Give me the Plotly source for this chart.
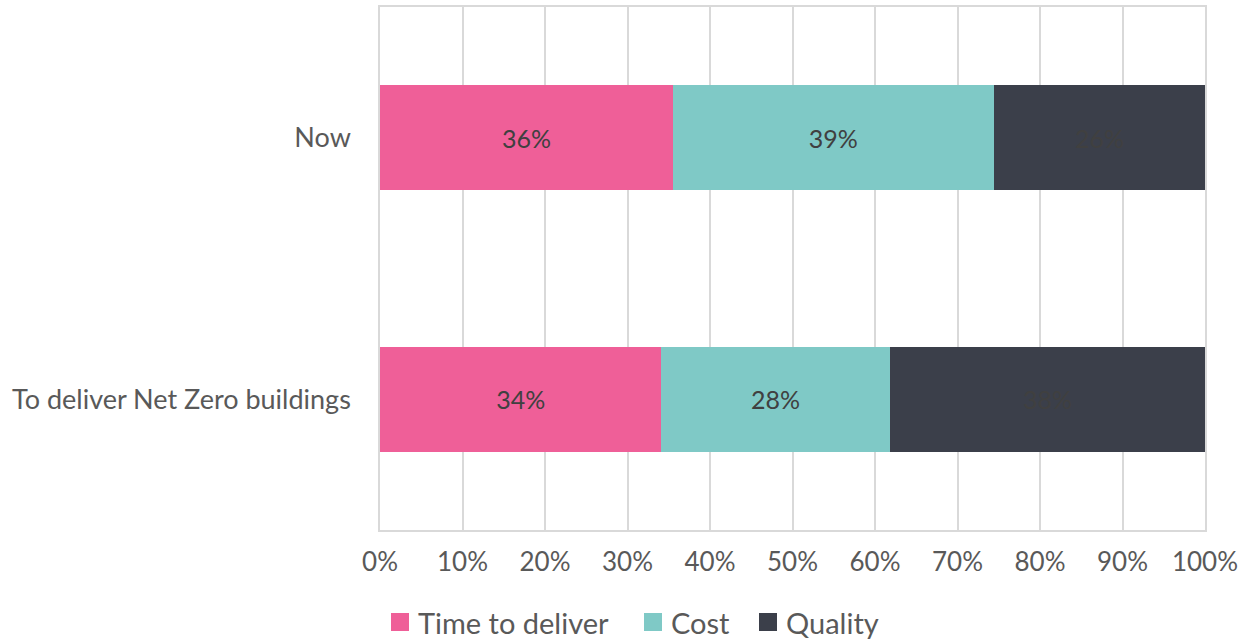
import plotly.graph_objects as go

# Share of respondents' top priority, by context
categories = ["Now", "To deliver Net Zero buildings"]
series_names = ["Time to deliver", "Cost", "Quality"]
time_to_deliver = [35.5, 34.1]
cost = [38.9, 27.7]
quality = [25.6, 38.2]
x_ticks = [0, 10, 20, 30, 40, 50, 60, 70, 80, 90, 100]
x_tick_labels = [f"{t}%" for t in x_ticks]

colors = ["#EF5F98", "#7FC9C6", "#3B3F4A"]
font_family = "Lato, 'Open Sans', sans-serif"

W, H = 1246, 639
M_L, M_R, M_T, M_B = 380, 41, 7, 109
PLOT_W = W - M_L - M_R
PLOT_H = H - M_T - M_B

fig = go.Figure()
for name, vals, col in zip(series_names, [time_to_deliver, cost, quality], colors):
    fig.add_trace(go.Bar(
        y=categories,
        x=vals,
        name=name,
        orientation="h",
        marker=dict(color=col, line=dict(width=0)),
        texttemplate="%{x:.0f}%",
        textposition="inside",
        insidetextanchor="middle",
        textangle=0,
        insidetextfont=dict(family=font_family, size=25, color="#404040"),
        hoverinfo="skip",
        showlegend=False,
    ))

# Legend drawn below the plot: square key + label per series
legend_key_left = [391, 644, 759]   # pixel x of each key square
key_size = 18
legend_center_y = 622
for name, col, kx in zip(series_names, colors, legend_key_left):
    x0 = (kx - M_L) / PLOT_W
    x1 = (kx + key_size - M_L) / PLOT_W
    y0 = (M_T + PLOT_H - (legend_center_y + key_size / 2)) / PLOT_H
    y1 = (M_T + PLOT_H - (legend_center_y - key_size / 2)) / PLOT_H
    fig.add_shape(type="rect", xref="paper", yref="paper",
                  x0=x0, x1=x1, y0=y0, y1=y1,
                  fillcolor=col, line=dict(width=0))
    fig.add_annotation(
        xref="paper", yref="paper",
        x=(kx + key_size + 7 - M_L) / PLOT_W,
        y=(M_T + PLOT_H - legend_center_y) / PLOT_H,
        xanchor="left", yanchor="middle",
        text=name, showarrow=False,
        font=dict(family=font_family, size=29, color="#595959"),
    )

fig.update_layout(
    barmode="stack",
    bargap=0.6,
    width=W,
    height=H,
    margin=dict(l=M_L, r=M_R, t=M_T, b=M_B),
    paper_bgcolor="white",
    plot_bgcolor="white",
    font=dict(family=font_family, color="#595959"),
    uniformtext=dict(mode="show", minsize=10),
    showlegend=False,
    xaxis=dict(
        range=[0, 100],
        tickvals=x_ticks,
        ticktext=x_tick_labels,
        showgrid=True,
        gridcolor="#D9D9D9",
        gridwidth=1.5,
        showline=True,
        mirror=True,
        linecolor="#D9D9D9",
        linewidth=1.5,
        zeroline=False,
        ticks="",
        ticklabelstandoff=8,
        tickfont=dict(size=26, color="#595959"),
        automargin=False,
        fixedrange=True,
    ),
    yaxis=dict(
        categoryorder="array",
        categoryarray=categories[::-1],
        showline=True,
        mirror=True,
        linecolor="#D9D9D9",
        linewidth=1.5,
        showgrid=False,
        ticks="",
        ticklabelstandoff=22,
        tickfont=dict(size=27, color="#595959"),
        automargin=False,
        fixedrange=True,
    ),
)

fig.write_html("out.html")
